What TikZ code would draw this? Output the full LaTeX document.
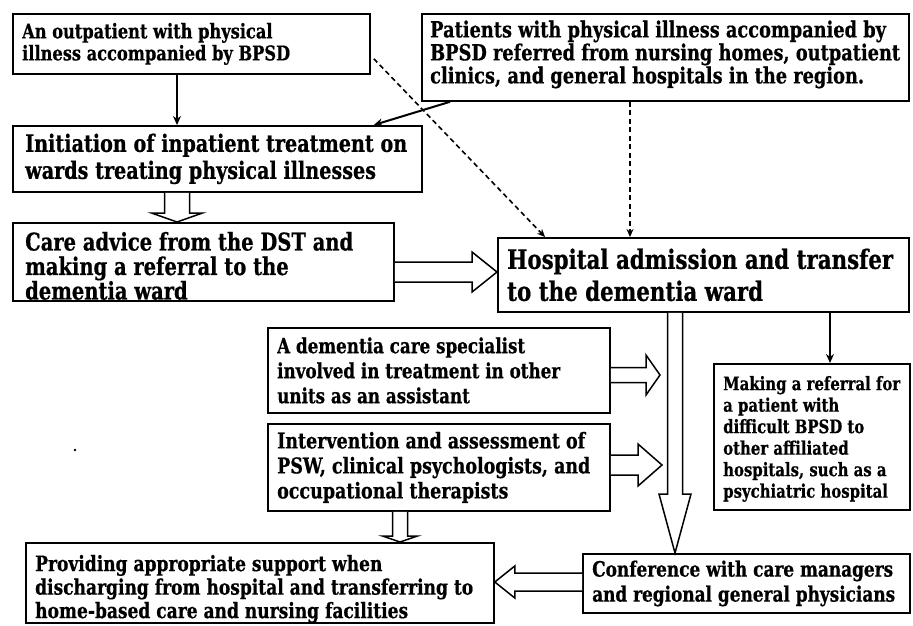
\documentclass[tikz,border=0pt]{standalone}
\usepackage{fontspec}
\newfontfamily\bpsd{DejaVu Serif}[UprightFont={* Bold},FakeStretch=0.8,FakeBold=0.6]
\usetikzlibrary{calc,arrows.meta}
\newlength\fitwd
\newcommand\fitfont[3]{\settowidth\fitwd{\bpsd\fontsize{10pt}{12pt}\selectfont #3}\pgfmathsetmacro\fitsz{10*#1/\fitwd}\bpsd\fontsize{\fitsz pt}{#2pt}\selectfont}
\newcommand\hollowright[5]{\draw[hollow] let \p1=#1,\p2=#2 in (\x1,\y1+#3pt) -- (\x2-#5pt,\y1+#3pt) -- (\x2-#5pt,\y1+#4pt) -- (\x2,\y1) -- (\x2-#5pt,\y1-#4pt) -- (\x2-#5pt,\y1-#3pt) -- (\x1,\y1-#3pt);}
\newcommand\hollowleft[5]{\draw[hollow] let \p1=#1,\p2=#2 in (\x1,\y1+#3pt) -- (\x2+#5pt,\y1+#3pt) -- (\x2+#5pt,\y1+#4pt) -- (\x2,\y1) -- (\x2+#5pt,\y1-#4pt) -- (\x2+#5pt,\y1-#3pt) -- (\x1,\y1-#3pt);}
\newcommand\hollowdown[5]{\draw[hollow] let \p1=#1,\p2=#2 in (\x1+#3pt,\y1) -- (\x1+#3pt,\y2+#5pt) -- (\x1+#4pt,\y2+#5pt) -- (\x1,\y2) -- (\x1-#4pt,\y2+#5pt) -- (\x1-#3pt,\y2+#5pt) -- (\x1-#3pt,\y1);}
\newcommand\boxat[5]{\node[box, minimum width={(#4-#2)*1pt}, minimum height={(#5-#3)*1pt}] (#1) at (#2,#3) {};}
\begin{document}
\begin{tikzpicture}[x=1pt,y=-1pt,
  box/.style={draw, line width=1.8pt, inner sep=0pt, anchor=north west, fill=white},
  txt/.style={align=left, inner sep=0pt, anchor=west},
  arr/.style={line width=2pt, -{Stealth[length=9pt,width=8pt]}},
  dsh/.style={line width=1.6pt, dash pattern=on 5pt off 3.5pt, -{Stealth[length=8pt,width=7pt]}},
  hollow/.style={draw, line width=1.5pt, fill=white, line join=miter}]
\useasboundingbox[fill=white] (0,0) rectangle (913,625);

% boxes
\boxat{A}{12}{13}{369}{73}
\boxat{B}{421}{13}{908}{100}
\boxat{C}{12}{125}{421}{191}
\boxat{D}{12}{222}{393}{300}
\boxat{E}{497}{237}{908}{311}
\boxat{G}{267}{327}{609}{412}
\boxat{H}{267}{423}{609}{510}
\boxat{F}{713}{363}{909}{509}
\boxat{J}{582}{553}{909}{612}
\boxat{K}{25}{542}{493}{622}

% texts
\node[txt, font={\fitfont{268}{22}{illness accompanied by BPSD}}] (At) at ($(A.west)+(10,0)$)
  {An outpatient with physical\\illness accompanied by BPSD};
\node[txt, font={\fitfont{470}{23}{BPSD referred from nursing homes, outpatient}}] (Bt) at ($(B.west)+(9,-3)$)
  {Patients with physical illness accompanied by\\BPSD referred from nursing homes, outpatient\\clinics, and general hospitals in the region.};
\node[txt, font={\fitfont{382}{27}{Initiation of inpatient treatment on}}] (Ct) at ($(C.west)+(13,0)$)
  {Initiation of inpatient treatment on\\wards treating physical illnesses};
\node[txt, font={\fitfont{328}{24.5}{Care advice from the DST and}}] (Dt) at ($(D.west)+(13,4)$)
  {Care advice from the DST and\\making a referral to the\\dementia ward};
\node[txt, font={\fitfont{386}{32}{Hospital admission and transfer}}] (Et) at ($(E.west)+(10,0)$)
  {Hospital admission and transfer\\to the dementia ward};
\node[txt, font={\fitfont{283}{25}{involved in treatment in other}}] (Gt) at ($(G.west)+(10,0)$)
  {A dementia care specialist\\involved in treatment in other\\units as an assistant};
\node[txt, font={\fitfont{308}{25}{Intervention and assessment of}}] (Ht) at ($(H.west)+(10,0)$)
  {Intervention and assessment of\\PSW, clinical psychologists, and\\occupational therapists};
\node[txt, font={\fitfont{177}{21.5}{Making a referral for}}] (Ft) at ($(F.west)+(10,2)$)
  {Making a referral for\\a patient with\\difficult BPSD to\\other affiliated\\hospitals, such as a\\psychiatric hospital};
\node[txt, font={\fitfont{303}{25}{and regional general physicians}}] (Jt) at ($(J.west)+(10,0)$)
  {Conference with care managers\\and regional general physicians};
\node[txt, font={\fitfont{438}{23.5}{discharging from hospital and transferring to}}] (Kt) at ($(K.west)+(10,6)$)
  {Providing appropriate support when\\discharging from hospital and transferring to\\home-based care and nursing facilities};

% helper coordinates
\coordinate (x177) at (177,0);
\coordinate (x630) at (630,0);
\coordinate (x830) at (830,0);
\coordinate (x675) at (675,0);
\coordinate (x400) at (400,0);
\coordinate (dey) at (0,272);
\coordinate (jky) at (0,582);
\coordinate (gtip) at (660,375);
\coordinate (htip) at (662,465);

% solid and dashed connectors
\draw[arr] (A.south -| x177) -- (C.north -| x177);
\draw[arr] ($(B.south west)+(29,0)$) -- ($(C.north east)+(-49,0)$);
\draw[dsh] ($(A.south east)+(3,-16)$) -- ($(E.north west)+(48,0)$);
\draw[dsh] (B.south -| x630) -- (E.north -| x630);
\draw[arr] (E.south -| x830) -- (F.north -| x830);

% hollow arrows
\hollowdown{(C.south -| x177)}{(D.north -| x177)}{12.5}{25.5}{9}
\hollowright{(D.east |- dey)}{(E.west |- dey)}{10}{20}{25}
\hollowright{(G.east |- gtip)}{(gtip)}{7.5}{20}{14}
\hollowright{(H.east |- htip)}{(htip)}{10}{21}{24}
\hollowdown{(E.south -| x675)}{(J.north -| x675)}{7.5}{16}{59}
\hollowdown{(H.south -| x400)}{(K.north -| x400)}{7.5}{17.5}{6}
\hollowleft{(J.west |- jky)}{(K.east |- jky)}{9}{16}{20}

% scan speck
\fill (75,450) circle (1.3pt);
\end{tikzpicture}
\end{document}
